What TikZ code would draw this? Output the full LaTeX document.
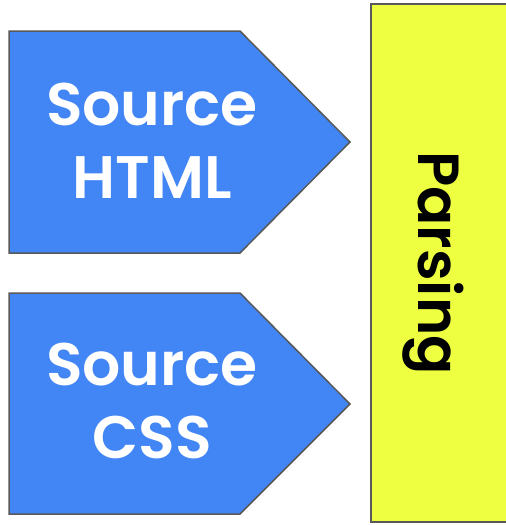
\documentclass[tikz,border=0pt]{standalone}
\usepackage{fontspec}
\setmainfont{Poppins}[BoldFont={Poppins SemiBold}]
\definecolor{srcblue}{HTML}{4285F4}
\definecolor{stageyellow}{HTML}{EEFF41}
\definecolor{edgegray}{HTML}{595959}
\begin{document}
\begin{tikzpicture}[x=1pt,y=-1pt,
    source/.style={draw=edgegray,line width=1.5pt,fill=srcblue,line join=miter},
    stage/.style={draw=edgegray,line width=1.5pt,fill=stageyellow},
    srclabel/.style={text=white,align=center,inner sep=0pt,
      font=\fontsize{60}{73}\selectfont\bfseries},
    stagelabel/.style={text=black,inner sep=0pt,rotate=-90,
      font=\fontsize{58}{70}\selectfont\bfseries}]
  \useasboundingbox (0,0) rectangle (506,525);
  % source arrows
  \draw[source] (9,31) -- (240,31) -- (350,142) -- (240,253) -- (9,253) -- cycle;
  \draw[source] (9,293) -- (240,293) -- (350,404) -- (240,514) -- (9,514) -- cycle;
  % parsing stage
  \draw[stage] (371,4) rectangle (530,522);
  \node[srclabel] (html) at (152,141) {Source\\HTML};
  \node[srclabel] (css) at (152,401) {Source\\CSS};
  \node[stagelabel] (parsing) at (433,263) {Parsing};
\end{tikzpicture}
\end{document}
